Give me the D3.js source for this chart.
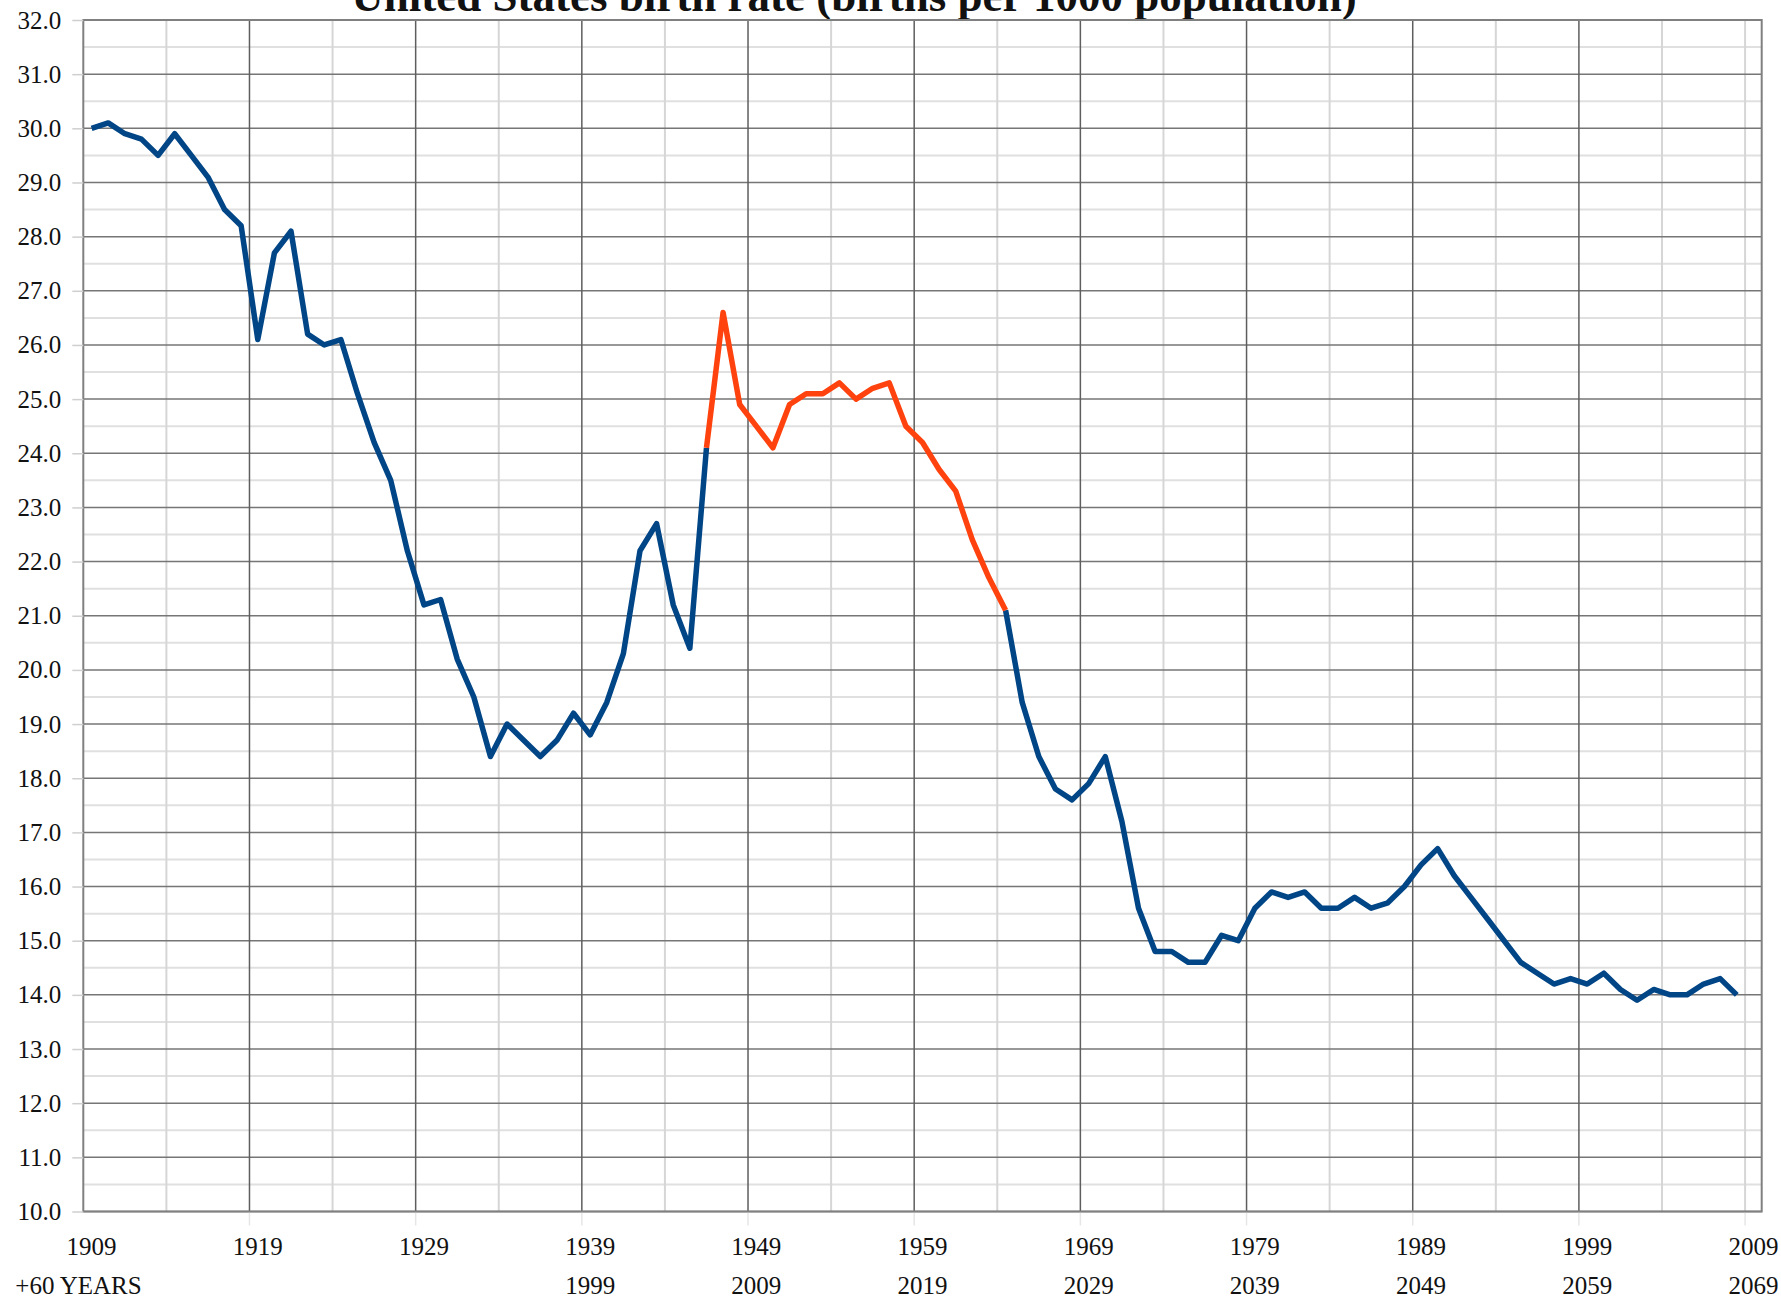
<!DOCTYPE html>
<html>
<head>
<meta charset="utf-8">
<script src="https://cdn.jsdelivr.net/npm/d3@7"></script>
<style>
  html, body { margin: 0; padding: 0; background: #fff; }
  svg { display: block; }
  text { font-family: "Liberation Serif", "Times New Roman", serif; fill: #111; }
</style>
</head>
<body>
<svg id="chart" width="1781" height="1300"></svg>
<script>
// ---- data ----
const titleText = "United States birth rate (births per 1000 population)";
const firstYear = 1909;
const birthRate = [
  30.0, 30.1, 29.9, 29.8, 29.5, 29.9, 29.5, 29.1, 28.5, 28.2, // 1909-1918
  26.1, 27.7, 28.1, 26.2, 26.0, 26.1, 25.1, 24.2, 23.5, 22.2, // 1919-1928
  21.2, 21.3, 20.2, 19.5, 18.4, 19.0, 18.7, 18.4, 18.7, 19.2, // 1929-1938
  18.8, 19.4, 20.3, 22.2, 22.7, 21.2, 20.4, 24.1, 26.6, 24.9, // 1939-1948
  24.5, 24.1, 24.9, 25.1, 25.1, 25.3, 25.0, 25.2, 25.3, 24.5, // 1949-1958
  24.2, 23.7, 23.3, 22.4, 21.7, 21.1, 19.4, 18.4, 17.8, 17.6, // 1959-1968
  17.9, 18.4, 17.2, 15.6, 14.8, 14.8, 14.6, 14.6, 15.1, 15.0, // 1969-1978
  15.6, 15.9, 15.8, 15.9, 15.6, 15.6, 15.8, 15.6, 15.7, 16.0, // 1979-1988
  16.4, 16.7, 16.2, 15.8, 15.4, 15.0, 14.6, 14.4, 14.2, 14.3, // 1989-1998
  14.2, 14.4, 14.1, 13.9, 14.1, 14.0, 14.0, 14.2, 14.3, 14.0  // 1999-2008
];
const highlightStart = 1946;   // orange segment (baby boom)
const highlightEnd = 1964;
const axisLastYear = 2009;     // category axis runs 1909..2009
const yTicks = [10,11,12,13,14,15,16,17,18,19,20,21,22,23,24,25,26,27,28,29,30,31,32];
const yMinorTicks = [10.5,11.5,12.5,13.5,14.5,15.5,16.5,17.5,18.5,19.5,20.5,21.5,22.5,23.5,24.5,25.5,26.5,27.5,28.5,29.5,30.5,31.5];
const xLabelYears = [1909,1919,1929,1939,1949,1959,1969,1979,1989,1999,2009];
const plus60Label = "+60 YEARS";
const plus60Years = [1939,1949,1959,1969,1979,1989,1999,2009];
const plus60Texts = ["1999","2009","2019","2029","2039","2049","2059","2069"];
const majorGridYears = [1919,1929,1939,1949,1959,1969,1979,1989,1999];
const minorGridYears = [1914,1924,1934,1944,1954,1964,1974,1984,1994,2004,2009];

// ---- layout ----
const mLeft = 83.3, mRight = 1761.7, mTop = 20, mBottom = 1211.5;
const svg = d3.select("#chart");

const x = d3.scaleLinear().domain([firstYear, axisLastYear + 1]).range([mLeft, mRight]);
const y = d3.scaleLinear().domain([10, 32]).range([mBottom, mTop]);

const data = birthRate.map((v, i) => ({ year: firstYear + i, value: v }));

// ---- title ----
svg.append("text")
  .attr("x", 854).attr("y", 11)
  .attr("text-anchor", "middle")
  .style("font-size", "45px").style("font-weight", "bold")
  .text(titleText);

// ---- gridlines ----
const grid = svg.append("g");
grid.selectAll(".hminor").data(yMinorTicks).join("line")
  .attr("x1", mLeft).attr("x2", mRight)
  .attr("y1", d => y(d)).attr("y2", d => y(d))
  .attr("stroke", "#e0e0e0").attr("stroke-width", 2);
grid.selectAll(".vminor").data(minorGridYears).join("line")
  .attr("x1", d => x(d)).attr("x2", d => x(d))
  .attr("y1", mTop).attr("y2", mBottom)
  .attr("stroke", "#d6d6d6").attr("stroke-width", 2);
grid.selectAll(".hmajor").data(yTicks).join("line")
  .attr("x1", mLeft).attr("x2", mRight)
  .attr("y1", d => y(d)).attr("y2", d => y(d))
  .attr("stroke", "#767676").attr("stroke-width", 1.5);
grid.selectAll(".vmajor").data(majorGridYears).join("line")
  .attr("x1", d => x(d)).attr("x2", d => x(d))
  .attr("y1", mTop).attr("y2", mBottom)
  .attr("stroke", "#5e5e5e").attr("stroke-width", 1.5);
// faint ticks below the axis
grid.selectAll(".btick").data(majorGridYears.concat([2009])).join("line")
  .attr("x1", d => x(d)).attr("x2", d => x(d))
  .attr("y1", mBottom).attr("y2", mBottom + 14)
  .attr("stroke", "#e6e6e6").attr("stroke-width", 1.5);

// plot border
svg.append("rect")
  .attr("x", mLeft).attr("y", mTop)
  .attr("width", mRight - mLeft).attr("height", mBottom - mTop)
  .attr("fill", "none").attr("stroke", "#808080").attr("stroke-width", 2);

// ---- y axis ----
const yAxis = d3.axisLeft(y).tickValues(yTicks).tickFormat(d3.format(".1f"))
  .tickSize(11).tickPadding(11);
const gy = svg.append("g").attr("transform", `translate(${mLeft},0)`).call(yAxis);
gy.select(".domain").remove();
gy.selectAll(".tick line").attr("stroke", "#cfcfcf").attr("stroke-width", 1.5);
gy.selectAll(".tick text").style("font-size", "25px")
  .style("font-family", '"Liberation Serif", "Times New Roman", serif').attr("fill", "#111");

// ---- x axis labels ----
const gx = svg.append("g");
gx.selectAll(".xl").data(xLabelYears).join("text")
  .attr("x", d => x(d + 0.5)).attr("y", 1255)
  .attr("text-anchor", "middle").style("font-size", "25px")
  .text(d => String(d));
gx.selectAll(".xl2").data(plus60Years).join("text")
  .attr("x", d => x(d + 0.5)).attr("y", 1294)
  .attr("text-anchor", "middle").style("font-size", "25px")
  .text((d, i) => plus60Texts[i]);
gx.append("text")
  .attr("x", x(firstYear) - 68).attr("y", 1294)
  .attr("text-anchor", "start").style("font-size", "25px")
  .text(plus60Label);

// ---- lines ----
const line = d3.line().x(d => x(d.year + 0.5)).y(d => y(d.value)).curve(d3.curveLinear);
const blue1 = data.filter(d => d.year <= highlightStart);
const orange = data.filter(d => d.year >= highlightStart && d.year <= highlightEnd);
const blue2 = data.filter(d => d.year >= highlightEnd);

[blue1, blue2].forEach(seg => {
  svg.append("path").datum(seg).attr("d", line)
    .attr("fill", "none").attr("stroke", "#004586").attr("stroke-width", 5.5)
    .attr("stroke-linejoin", "round").attr("stroke-linecap", "butt");
});
svg.append("path").datum(orange).attr("d", line)
  .attr("fill", "none").attr("stroke", "#ff420e").attr("stroke-width", 5.5)
  .attr("stroke-linejoin", "round").attr("stroke-linecap", "butt");
</script>
</body>
</html>
